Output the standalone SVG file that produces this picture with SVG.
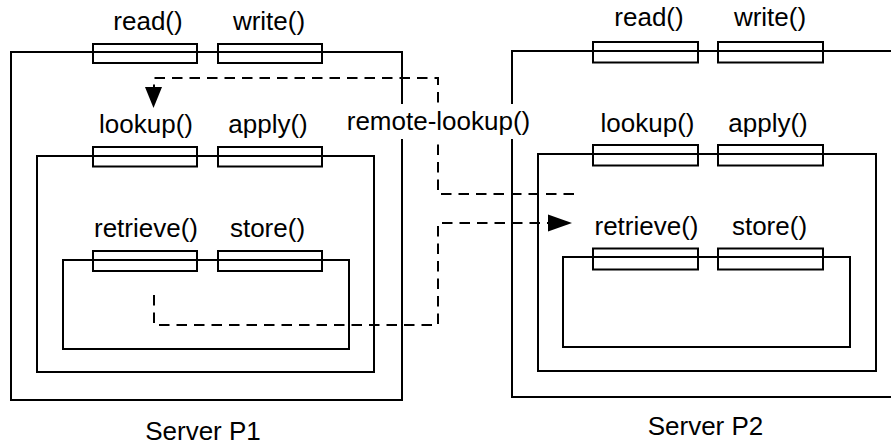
<svg xmlns="http://www.w3.org/2000/svg" width="891" height="445" viewBox="0 0 891 445">
<style>
.box{fill:none;stroke:#000;stroke-width:2}
.port{fill:none;stroke:#000;stroke-width:2}
.lbl{font-family:"Liberation Sans",Arial,Helvetica,sans-serif;font-size:26px;fill:#000;text-anchor:middle}
.dash{fill:none;stroke:#000;stroke-width:2;stroke-dasharray:10.5 7}
.head{fill:#000;stroke:none}
</style>
<rect width="891" height="445" fill="#fff"/>
<g id="serverP1">
<rect class="box" x="11" y="52" width="391" height="348"/>
<rect class="port" x="93" y="44" width="104" height="19"/>
<rect class="port" x="218" y="44" width="104" height="19"/>
<text class="lbl" x="148" y="30">read()</text>
<text class="lbl" x="269" y="30">write()</text>
<text class="lbl" x="203" y="440">Server P1</text>
</g>
<g id="lookupP1">
<rect class="box" x="37" y="156" width="337" height="216"/>
<rect class="port" x="93" y="147" width="104" height="19.5"/>
<rect class="port" x="218" y="147" width="104" height="19.5"/>
<text class="lbl" x="146" y="133">lookup()</text>
<text class="lbl" x="268" y="133">apply()</text>
</g>
<g id="storeP1">
<rect class="box" x="63" y="260" width="286" height="89"/>
<rect class="port" x="93" y="251" width="104" height="20"/>
<rect class="port" x="218" y="251" width="104" height="20"/>
<text class="lbl" x="146" y="237">retrieve()</text>
<text class="lbl" x="267.5" y="237">store()</text>
</g>
<g id="serverP2">
<rect class="box" x="512" y="51" width="391" height="346"/>
<rect class="port" x="593" y="42" width="105" height="20.5"/>
<rect class="port" x="718" y="42" width="105" height="20.5"/>
<text class="lbl" x="649" y="26">read()</text>
<text class="lbl" x="770" y="26">write()</text>
<text class="lbl" x="705.5" y="435">Server P2</text>
</g>
<g id="lookupP2">
<rect class="box" x="538" y="154" width="338" height="217"/>
<rect class="port" x="593" y="145" width="105" height="20.5"/>
<rect class="port" x="718" y="145" width="105" height="20.5"/>
<text class="lbl" x="647.5" y="131.5">lookup()</text>
<text class="lbl" x="768" y="131.5">apply()</text>
</g>
<g id="storeP2">
<rect class="box" x="563" y="257" width="287" height="90"/>
<rect class="port" x="593" y="248.5" width="105" height="21"/>
<rect class="port" x="718" y="248.5" width="105" height="21"/>
<text class="lbl" x="646.5" y="235">retrieve()</text>
<text class="lbl" x="769.5" y="235">store()</text>
</g>
<g id="connectors">
<path class="dash" d="M574,194 H438 V78 H154 V88"/>
<polygon class="head" points="145,87 162,87 153.5,108"/>
<path class="dash" d="M154,295 V325 H438 V223 H549"/>
<polygon class="head" points="548,214.5 548,231.5 572,223"/>
<rect x="343" y="104" width="192" height="35" fill="#fff"/>
<text class="lbl" x="438.5" y="130">remote-lookup()</text>
</g>
</svg>
